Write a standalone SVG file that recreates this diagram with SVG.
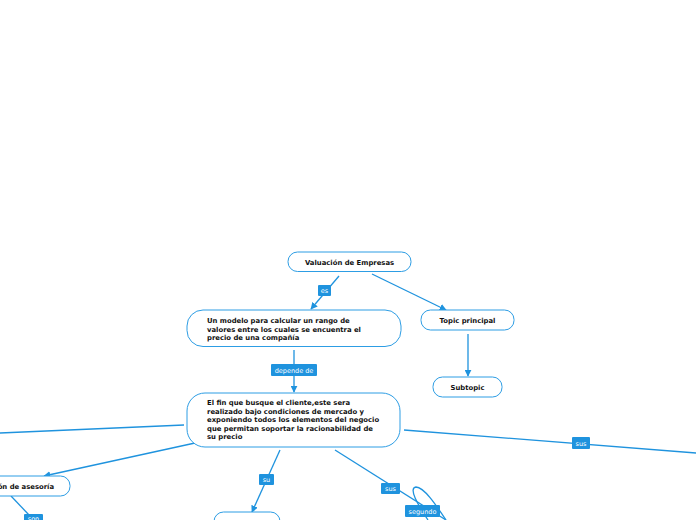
<svg xmlns="http://www.w3.org/2000/svg" width="696" height="520" viewBox="0 0 696 520">
<style>
.node rect{fill:#fff;stroke:#2d9de4;stroke-width:1}
.node text{font-family:"DejaVu Sans",Verdana,sans-serif;font-weight:bold;font-size:6.85px;fill:#111}
.edge{fill:none;stroke:#1f93de;stroke-width:1.3}
.lbl rect{fill:#1f93de;stroke:none}
.lbl text{font-family:"DejaVu Sans",Verdana,sans-serif;font-size:6.5px;fill:#fff;text-anchor:middle}
</style>
<defs>
<marker id="ah" viewBox="0 0 10 10" refX="9" refY="5" markerWidth="7" markerHeight="7" orient="auto" markerUnits="userSpaceOnUse">
<path d="M0 0 L10 5 L0 10 z" fill="#1f93de"/>
</marker>
</defs>
<rect width="696" height="520" fill="#fff"/>
<g id="connectors">
<path class="edge" d="M339 276 L311 309" marker-end="url(#ah)"/>
<path class="edge" d="M372 274 L446 310" marker-end="url(#ah)"/>
<path class="edge" d="M468 334 L468 376" marker-end="url(#ah)"/>
<path class="edge" d="M294 350 L294 392" marker-end="url(#ah)"/>
<path class="edge" d="M184 425 L0 433"/>
<path class="edge" d="M195 443 L44 476" marker-end="url(#ah)"/>
<path class="edge" d="M11 496 L30 516"/>
<path class="edge" d="M280 450 L252 512" marker-end="url(#ah)"/>
<path class="edge" d="M335 450 L446 520"/>
<path class="edge" d="M428 520 C418 505 408 488 416 487 C424 487 436 505 446 520"/>
<path class="edge" d="M404 430 L696 453"/>
<g class="lbl"><rect x="318" y="285" width="13" height="11" rx="1"/><text x="324.5" y="293">es</text></g>
<g class="lbl"><rect x="271" y="364" width="46" height="12" rx="1"/><text x="294" y="372.5">depende de</text></g>
<g class="lbl"><rect x="259" y="474" width="15" height="11" rx="1"/><text x="266.5" y="482">su</text></g>
<g class="lbl"><rect x="381" y="483" width="19" height="11" rx="1"/><text x="390.5" y="491">sus</text></g>
<g class="lbl"><rect x="405" y="505" width="35" height="12" rx="1"/><text x="422.5" y="513.5">segundo</text></g>
<g class="lbl"><rect x="572" y="437" width="18" height="12" rx="1"/><text x="581" y="445.5">sus</text></g>
<g class="lbl"><rect x="24" y="514" width="19" height="10" rx="1"/><text x="33.5" y="521">son</text></g>
</g>
<g id="n1" class="node"><rect x="288" y="252" width="123" height="19.5" rx="9.5"/><text x="349.5" y="264.5" text-anchor="middle">Valuación de Empresas</text></g>
<g id="n2" class="node"><rect x="187" y="310" width="214" height="36.5" rx="16"/><text x="207" y="323">Un modelo para calcular un rango de</text><text x="207" y="331.5">valores entre los cuales se encuentra el</text><text x="207" y="340">precio de una compañía</text></g>
<g id="n3" class="node"><rect x="421" y="310" width="93" height="20" rx="9.5"/><text x="467.5" y="322.5" text-anchor="middle">Topic principal</text></g>
<g id="n4" class="node"><rect x="433" y="377" width="69" height="20" rx="9.5"/><text x="467.5" y="389.5" text-anchor="middle">Subtopic</text></g>
<g id="n5" class="node"><rect x="187" y="393" width="213" height="54" rx="18"/><text x="207" y="405">El fin que busque el cliente,este sera</text><text x="207" y="413.5">realizado bajo condiciones de mercado y</text><text x="207" y="422">exponiendo todos los elementos del negocio</text><text x="207" y="430.5">que permitan soportar la racionabilidad de</text><text x="207" y="439">su precio</text></g>
<g id="n6" class="node"><rect x="-60" y="476" width="130" height="20" rx="9.5"/><text x="54" y="488.5" text-anchor="end">ón de asesoría</text></g>
<g id="n7" class="node"><rect x="214" y="512" width="66" height="24" rx="9.5"/></g>
</svg>
